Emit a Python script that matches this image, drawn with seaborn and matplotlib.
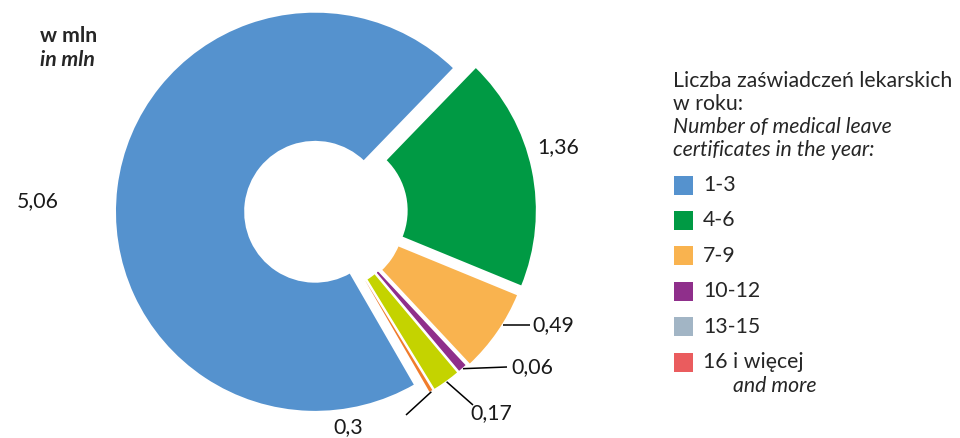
import numpy as np
import matplotlib
matplotlib.use('Agg')
import matplotlib.pyplot as plt
from matplotlib.patches import Rectangle
import seaborn as sns

# liczba osob wg liczby zaswiadczen lekarskich w roku (w mln)
groups = ['1-3', '4-6', '7-9', '10-12', '13-15', '16 i więcej']
values = [5.06, 1.36, 0.49, 0.06, 0.17, 0.03]
value_labels = ['5,06', '1,36', '0,49', '0,06', '0,17', '0,3']
pie_colors = ['#5592ce', '#009a44', '#f9b34f', '#8f2f8b', '#c4d300', '#f07c2b']
legend_colors = ['#5592ce', '#009a44', '#f9b34f', '#8f2f8b', '#a2b5c5', '#ea5c5e']

sns.set_theme(style='white')
plt.rcParams['font.family'] = ['Lato', 'DejaVu Sans']

W, H = 960, 438
fig = plt.figure(figsize=(9.6, 4.38), dpi=100)
ax = fig.add_axes([0, 0, 1, 1])

# pie in pixel-like coordinates (y up)
cx, cy, R = 325, H - 213, 200
explode = [10, 12, 10, 8, 8, 8]
wedges, _ = ax.pie(values, colors=sns.color_palette(pie_colors), startangle=300,
                   counterclock=False, center=(cx, cy), radius=R, explode=explode,
                   wedgeprops=dict(width=R * 0.65, edgecolor='white', linewidth=1.3))
ax.set_xlim(0, W)
ax.set_ylim(0, H)
ax.set_aspect('equal')
ax.axis('off')

# value labels: text anchor (image coords) and optional leader line end
label_pos = [(17, 201), (537, 147), (532, 325), (511, 367), (470, 413), (333, 427)]
line_end = [None, None, (530, 325), (507, 367), (473, 405), (406, 415)]
flat_line = [False, False, True, False, False, False]
fs = 15.3

for w, lab, (tx, ty), le, flat in zip(wedges, value_labels, label_pos, line_end, flat_line):
    if le is not None:
        if flat:
            # start on the outer arc at the label height
            ang = np.arcsin((H - le[1] - w.center[1]) / R)
        else:
            ang = np.deg2rad((w.theta1 + w.theta2) / 2)
        x0 = w.center[0] + R * np.cos(ang)
        y0 = w.center[1] + R * np.sin(ang)
        ax.plot([x0, le[0]], [y0, H - le[1]], color='black', lw=1.1,
                solid_capstyle='butt')
    ax.text(tx, H - ty, lab, ha='left', va='center', fontsize=fs, color='#1a1a1a')

# unit
ax.text(40, H - 36, 'w mln', fontsize=15.3, fontweight='bold', ha='left', va='center')
ax.text(40, H - 60, 'in mln', fontsize=15.3, fontweight='bold', fontstyle='italic',
        ha='left', va='center')

# legend
lx = 673
ax.text(lx, H - 81, 'Liczba zaświadczeń lekarskich', fontsize=fs, ha='left', va='center')
ax.text(lx, H - 104, 'w roku:', fontsize=fs, ha='left', va='center')
ax.text(lx, H - 127, 'Number of medical leave', fontsize=fs, fontstyle='italic',
        ha='left', va='center')
ax.text(lx, H - 150, 'certificates in the year:', fontsize=fs, fontstyle='italic',
        ha='left', va='center')

row0, step, sq = 185, 35.4, 19
for i, (g, c) in enumerate(zip(groups, legend_colors)):
    yc = row0 + i * step
    ax.add_patch(Rectangle((674, H - yc - sq / 2), sq, sq, facecolor=c,
                           edgecolor='none'))
    ax.text(703, H - yc, g, fontsize=fs, ha='left', va='center')
ax.text(733, H - (row0 + 5 * step + 24), 'and more', fontsize=fs, fontstyle='italic',
        ha='left', va='center')

fig.savefig('out.png', dpi=100, facecolor='white')
